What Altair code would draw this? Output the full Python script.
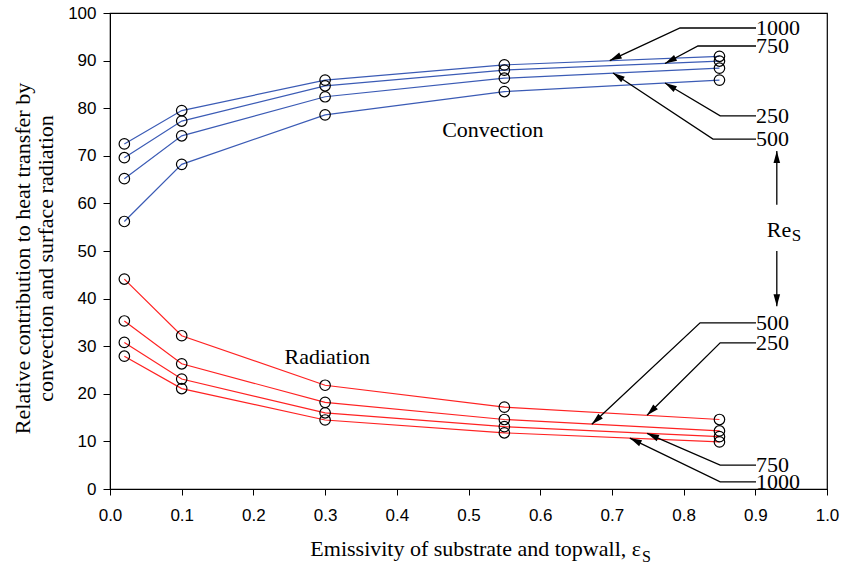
import math
import altair as alt
import pandas as pd

# ---------------- data ----------------
eps = [0.02, 0.1, 0.3, 0.55, 0.85]
re_list = ["250", "500", "750", "1000"]
conv = {
    "250": [56.2, 68.2, 78.6, 83.5, 85.9],
    "500": [65.2, 74.2, 82.4, 86.3, 88.4],
    "750": [69.6, 77.3, 84.7, 88.0, 89.9],
    "1000": [72.5, 79.5, 85.9, 89.1, 90.9],
}
rad = {
    "250": [44.1, 32.2, 21.8, 17.2, 14.6],
    "500": [35.3, 26.3, 18.2, 14.6, 12.2],
    "750": [30.8, 23.1, 16.0, 13.1, 11.0],
    "1000": [27.9, 21.1, 14.5, 11.8, 9.9],
}

# annotation leaders (data units): label, label y, elbow x, tip x, tip y
conv_labels = ["1000", "750", "250", "500"]
conv_label_y = [96.85, 93.07, 78.4, 73.5]
conv_elbow_x = [0.795, 0.82, 0.851, 0.841]
conv_tip_x = [0.697, 0.774, 0.774, 0.7015]
conv_tip_y = [90.0, 89.4, 85.3, 87.4]
rad_labels = ["500", "250", "750", "1000"]
rad_label_y = [34.9, 30.7, 5.0, 1.5]
rad_elbow_x = [0.823, 0.851, 0.851, 0.851]
rad_tip_x = [0.672, 0.749, 0.749, 0.725]
rad_tip_y = [13.6, 15.5, 11.7, 10.7]
leader_end_x = 0.901

re_arrow_x = 0.93
re_up = (59.7, 71.0)
re_down = (50.0, 38.4)
re_text_x = 0.916
re_text_y = 54.4

# ---------------- geometry helpers ----------------
W, H = 717, 476
PX_X = W / 1.0
PX_Y = H / 100.0

rows = []
for kind, d in (("Convection", conv), ("Radiation", rad)):
    for r in re_list:
        for e, v in zip(eps, d[r]):
            rows.append({"kind": kind, "re": r, "series": kind + r, "eps": e, "val": v})
df = pd.DataFrame(rows)

def angle_of(x0, y0, x1, y1):
    dx = (x1 - x0) * PX_X
    dy = -(y1 - y0) * PX_Y
    a = math.degrees(math.atan2(dx, -dy))
    return a % 360

seg_rows, head_rows, lab_rows = [], [], []
aid = 0
for labels, ly, ex, tx, ty in ((conv_labels, conv_label_y, conv_elbow_x, conv_tip_x, conv_tip_y),
                               (rad_labels, rad_label_y, rad_elbow_x, rad_tip_x, rad_tip_y)):
    for lab, yy, exx, txx, tyy in zip(labels, ly, ex, tx, ty):
        seg_rows += [
            {"aid": aid, "o": 0, "x": leader_end_x, "y": yy},
            {"aid": aid, "o": 1, "x": exx, "y": yy},
            {"aid": aid, "o": 2, "x": txx, "y": tyy},
        ]
        head_rows.append({"x": txx, "y": tyy, "angle": angle_of(exx, yy, txx, tyy)})
        lab_rows.append({"x": leader_end_x, "y": yy, "text": lab})
        aid += 1
for y0, y1 in (re_up, re_down):
    seg_rows += [
        {"aid": aid, "o": 0, "x": re_arrow_x, "y": y0},
        {"aid": aid, "o": 1, "x": re_arrow_x, "y": y1},
    ]
    head_rows.append({"x": re_arrow_x, "y": y1, "angle": angle_of(re_arrow_x, y0, re_arrow_x, y1)})
    aid += 1

seg_df = pd.DataFrame(seg_rows)
head_df = pd.DataFrame(head_rows)
lab_df = pd.DataFrame(lab_rows)

xs = alt.Scale(domain=[0, 1], nice=False)
ys = alt.Scale(domain=[0, 100], nice=False)
SERIF = "Liberation Serif"
FS = 22

x_enc = alt.X("eps:Q", scale=xs, title=None,
              axis=alt.Axis(values=[i / 10 for i in range(11)], format=".1f", grid=False,
                            labelFont="Liberation Sans", labelFontSize=17, labelColor="black",
                            tickColor="black", domainColor="black", tickSize=6, labelPadding=12,
                            labelFlush=False))
y_enc = alt.Y("val:Q", scale=ys,
              title=["Relative contribution to heat transfer by", "convection and surface radiation"],
              axis=alt.Axis(values=list(range(0, 101, 10)), grid=False,
                            labelFont="Liberation Sans", labelFontSize=17, labelColor="black",
                            tickColor="black", domainColor="black", tickSize=7, labelPadding=7,
                            titleFont=SERIF, titleFontSize=FS, titleFontWeight="normal",
                            titleColor="black", titleAngle=270, titleX=-88, titleY=245,
                            titleAlign="center", titleBaseline="middle", titleLineHeight=23))

lines = alt.Chart(df).mark_line(strokeWidth=1.2).encode(
    x=x_enc, y=y_enc,
    color=alt.Color("kind:N", scale=alt.Scale(domain=["Convection", "Radiation"],
                                              range=["#3b5bb5", "#ff2222"]), legend=None),
    detail="series:N",
)
pts = alt.Chart(df).mark_point(shape="circle", filled=False, size=110, strokeWidth=1.2,
                               color="black", opacity=1).encode(x="eps:Q", y="val:Q")

segs = alt.Chart(seg_df).mark_line(color="black", strokeWidth=1.3).encode(
    x=alt.X("x:Q", scale=xs), y=alt.Y("y:Q", scale=ys), detail="aid:N", order="o:Q")
heads = alt.Chart(head_df).mark_point(shape="M0,0L0.55,2L-0.55,2Z", filled=True, color="black",
                                      opacity=1, size=144, strokeWidth=0).encode(
    x=alt.X("x:Q", scale=xs), y=alt.Y("y:Q", scale=ys), angle=alt.Angle("angle:Q", scale=None))
labs = alt.Chart(lab_df).mark_text(align="left", baseline="middle", font=SERIF, fontSize=FS,
                                   color="black", dx=0).encode(
    x=alt.X("x:Q", scale=xs), y=alt.Y("y:Q", scale=ys), text="text:N")

kind_df = pd.DataFrame({"x": [0.534, 0.303], "y": [75.4, 27.7], "text": ["Convection", "Radiation"]})
kind_labs = alt.Chart(kind_df).mark_text(align="center", baseline="middle", font=SERIF, fontSize=FS,
                                         color="black").encode(
    x=alt.X("x:Q", scale=xs), y=alt.Y("y:Q", scale=ys), text="text:N")

re_df = pd.DataFrame({"x": [re_text_x], "y": [re_text_y], "text": ["Re"]})
re_lab = alt.Chart(re_df).mark_text(align="left", baseline="middle", font=SERIF, fontSize=FS,
                                    color="black").encode(
    x=alt.X("x:Q", scale=xs), y=alt.Y("y:Q", scale=ys), text="text:N")
re_sub = alt.Chart(re_df).mark_text(align="left", baseline="middle", font=SERIF, fontSize=17,
                                    color="black", dx=25, dy=6).encode(
    x=alt.X("x:Q", scale=xs), y=alt.Y("y:Q", scale=ys), text=alt.value("S"))

xt = alt.Chart(pd.DataFrame({"a": [0]})).mark_text(
    align="right", baseline="alphabetic", font=SERIF, fontSize=FS, color="black").encode(
    x=alt.value(531), y=alt.value(543), text=alt.value("Emissivity of substrate and topwall, ε"))
xt_sub = alt.Chart(pd.DataFrame({"a": [0]})).mark_text(
    align="left", baseline="alphabetic", font=SERIF, fontSize=16, color="black").encode(
    x=alt.value(532), y=alt.value(549), text=alt.value("S"))

chart = alt.layer(lines, pts, segs, heads, labs, kind_labs, re_lab, re_sub, xt, xt_sub).properties(
    width=W, height=H, autosize="none",
    padding={"left": 110, "top": 13, "right": 15, "bottom": 81},
    background="white",
).configure_view(stroke="black", strokeWidth=1.2)

chart.save("out.html", embed_options={"renderer": "svg", "actions": False})
